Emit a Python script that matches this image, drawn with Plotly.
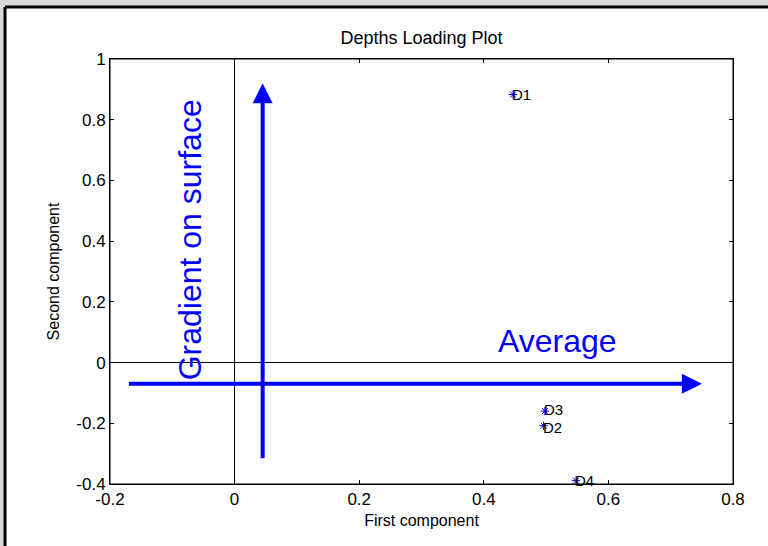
import plotly.graph_objects as go

# Data
labels = ["D1", "D2", "D3", "D4"]
first_comp = [0.447, 0.496, 0.498, 0.548]
second_comp = [0.883, -0.208, -0.160, -0.389]

x_ticks = [-0.2, 0, 0.2, 0.4, 0.6, 0.8]
x_ticktext = ["-0.2", "0", "0.2", "0.4", "0.6", "0.8"]
y_ticks = [-0.4, -0.2, 0, 0.2, 0.4, 0.6, 0.8, 1]
y_ticktext = ["-0.4", "-0.2", "0", "0.2", "0.4", "0.6", "0.8", "1"]

# Arrow endpoints (data coordinates)
h_arrow = {"x0": -0.172, "x1": 0.75, "y": -0.07}
v_arrow = {"x": 0.045, "y0": -0.32, "y1": 0.92}

FONT = "Liberation Sans, Arial, sans-serif"
BLUE = "#0000ff"

fig = go.Figure()
fig.add_trace(go.Scatter(
    x=first_comp, y=second_comp, mode="markers",
    marker=dict(symbol="asterisk-open", size=7, color=BLUE, line=dict(color=BLUE, width=1)),
    showlegend=False, hoverinfo="skip",
))

label_yshift = {"D1": 0, "D2": -2, "D3": 2, "D4": 0}
annotations = []
for lab, xv, yv in zip(labels, first_comp, second_comp):
    annotations.append(dict(x=xv, y=yv, xref="x", yref="y", text=lab, showarrow=False,
                            xanchor="left", yanchor="middle", xshift=-3, yshift=label_yshift[lab],
                            font=dict(family=FONT, size=15, color="black")))

# Arrows
annotations.append(dict(x=h_arrow["x1"], y=h_arrow["y"], ax=h_arrow["x0"], ay=h_arrow["y"],
                        xref="x", yref="y", axref="x", ayref="y", text="", showarrow=True,
                        arrowhead=2, arrowsize=1.0, arrowwidth=4, arrowcolor=BLUE, standoff=0, startstandoff=0))
annotations.append(dict(x=v_arrow["x"], y=v_arrow["y1"], ax=v_arrow["x"], ay=v_arrow["y0"],
                        xref="x", yref="y", axref="x", ayref="y", text="", showarrow=True,
                        arrowhead=2, arrowsize=1.0, arrowwidth=4, arrowcolor=BLUE, standoff=0, startstandoff=0))

annotations.append(dict(x=0.518, y=0.072, xref="x", yref="y", text="Average", showarrow=False,
                        font=dict(family=FONT, size=32, color=BLUE)))
annotations.append(dict(x=-0.072, y=0.405, xref="x", yref="y", text="Gradient on surface", showarrow=False,
                        textangle=-90, font=dict(family=FONT, size=32, color=BLUE)))

shapes = [
    dict(type="rect", xref="paper", yref="paper", x0=0, x1=1, y0=0, y1=1, layer="above",
         line=dict(color="black", width=1), fillcolor="rgba(0,0,0,0)"),
]

fig.update_layout(
    width=768, height=546,
    margin=dict(l=110, r=35, t=59, b=62),
    paper_bgcolor="white", plot_bgcolor="white",
    font=dict(family=FONT, size=16, color="black"),
    title=dict(text="Depths Loading Plot", xref="paper", x=0.5, xanchor="center", y=1 - 38 / 546, yanchor="middle",
               font=dict(family=FONT, size=18, color="black")),
    annotations=annotations,
    shapes=shapes,
    showlegend=False,
)
fig.update_xaxes(range=[-0.2, 0.8], tickvals=x_ticks, ticktext=x_ticktext, ticks="inside", ticklen=4,
                 tickcolor="black", showgrid=False, zeroline=True, zerolinecolor="black", zerolinewidth=1,
                 showline=True, linecolor="black", linewidth=1, mirror="ticks",
                 title=dict(text="First component", font=dict(family=FONT, size=16), standoff=6),
                 tickfont=dict(family=FONT, size=17))
fig.update_yaxes(range=[-0.4, 1.0], tickvals=y_ticks, ticktext=y_ticktext, ticks="inside", ticklen=4,
                 tickcolor="black", showgrid=False, zeroline=True, zerolinecolor="black", zerolinewidth=1,
                 showline=True, linecolor="black", linewidth=1, mirror="ticks",
                 title=dict(text="Second component", font=dict(family=FONT, size=16), standoff=12),
                 tickfont=dict(family=FONT, size=17))

# Window frame: gray band on top/left with dark line
fig.add_shape(type="rect", xref="paper", yref="paper", x0=-110/623, x1=(623+35)/623,
              y0=1 + 53/425, y1=1 + 59/425, fillcolor="#d9d9d9", line=dict(width=0), layer="above")
fig.add_shape(type="rect", xref="paper", yref="paper", x0=-110/623, x1=-106/623,
              y0=-62/425, y1=1 + 59/425, fillcolor="#d9d9d9", line=dict(width=0), layer="above")
fig.add_shape(type="line", xref="paper", yref="paper", x0=-105/623, x1=(623+35)/623,
              y0=1 + 52/425, y1=1 + 52/425, line=dict(color="black", width=3), layer="above")
fig.add_shape(type="line", xref="paper", yref="paper", x0=-105/623, x1=-105/623,
              y0=-62/425, y1=1 + 52/425, line=dict(color="black", width=3), layer="above")

fig.write_html("out.html")
